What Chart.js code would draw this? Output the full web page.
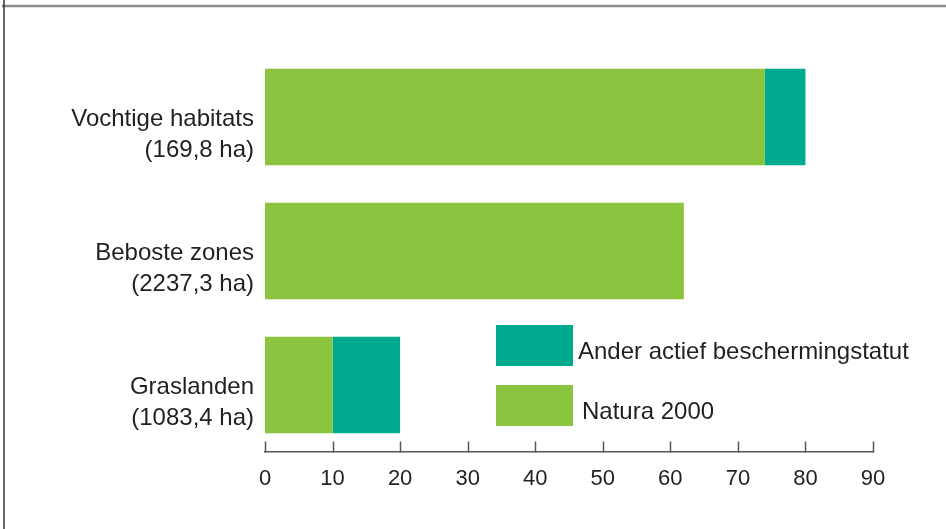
<!DOCTYPE html>
<html>
<head>
<meta charset="utf-8">
<script src="https://cdn.jsdelivr.net/npm/chart.js@4/dist/chart.umd.min.js"></script>
<style>
  html, body { margin: 0; padding: 0; background: #fff; }
  #wrap { position: relative; width: 946px; height: 529px; }
</style>
</head>
<body>
<div id="wrap"><canvas id="chart" width="946" height="529"></canvas></div>
<script>
// ===== Data =====
const categories = [
    ['Vochtige habitats', '(169,8 ha)'],
    ['Beboste zones', '(2237,3 ha)'],
    ['Graslanden', '(1083,4 ha)']
];
const natura2000 = [74, 62, 10];
const anderStatuut = [6, 0, 10];
const seriesNames = ['Ander actief beschermingstatut', 'Natura 2000'];
const xTicks = [0, 10, 20, 30, 40, 50, 60, 70, 80, 90];

const GREEN = '#8bc43f';
const TEAL = '#00aa8e';
const TEXT = '#231f20';
const FONT = "'Liberation Sans', Arial, sans-serif";

// frame lines + upward tick marks + legend
const decor = {
    id: 'decor',
    beforeDraw(chart) {
        const ctx = chart.ctx;
        ctx.save();
        ctx.strokeStyle = '#8a8a8a';
        ctx.lineWidth = 2.5;
        ctx.beginPath();
        ctx.moveTo(2, 6);
        ctx.lineTo(946, 6);
        ctx.stroke();
        ctx.strokeStyle = '#333';
        ctx.lineWidth = 1.5;
        ctx.beginPath();
        ctx.moveTo(4, 0);
        ctx.lineTo(4, 529);
        ctx.stroke();
        ctx.restore();
    },
    afterDraw(chart) {
        const ctx = chart.ctx;
        const x = chart.scales.x;
        const yBase = chart.chartArea.bottom + 0.5;
        ctx.save();
        ctx.strokeStyle = '#555';
        ctx.lineWidth = 1.5;
        xTicks.forEach(v => {
            const px = Math.round(x.getPixelForValue(v)) + 0.5;
            ctx.beginPath();
            ctx.moveTo(px, yBase);
            ctx.lineTo(px, yBase - 11);
            ctx.stroke();
        });

        // legend
        const legend = [
            { color: TEAL, label: seriesNames[0], y: 325, tx: 578 },
            { color: GREEN, label: seriesNames[1], y: 385, tx: 582 }
        ];
        ctx.font = '24px ' + FONT;
        ctx.textBaseline = 'middle';
        ctx.textAlign = 'left';
        legend.forEach(l => {
            ctx.fillStyle = l.color;
            ctx.fillRect(496, l.y, 77, 41);
            ctx.fillStyle = TEXT;
            ctx.fillText(l.label, l.tx, l.y + 27);
        });
        ctx.restore();
    }
};

new Chart(document.getElementById('chart').getContext('2d'), {
    type: 'bar',
    data: {
        labels: categories,
        datasets: [
            {
                label: seriesNames[1],
                data: natura2000,
                backgroundColor: GREEN,
                barPercentage: 0.72,
                categoryPercentage: 1,
            },
            {
                label: seriesNames[0],
                data: anderStatuut,
                backgroundColor: TEAL,
                barPercentage: 0.72,
                categoryPercentage: 1,
            }
        ]
    },
    options: {
        indexAxis: 'y',
        responsive: false,
        animation: false,
        layout: { padding: { top: 50, right: 73, left: 0, bottom: 0 } },
        plugins: {
            legend: { display: false },
            tooltip: { enabled: false }
        },
        scales: {
            x: {
                stacked: true,
                min: 0,
                max: 90,
                ticks: {
                    stepSize: 10,
                    color: TEXT,
                    padding: 14,
                    font: { size: 22, family: FONT }
                },
                grid: { display: false, drawTicks: false },
                border: { display: true, color: '#555', width: 1.5 },
                afterFit: s => { s.height = 77; }
            },
            y: {
                stacked: true,
                ticks: {
                    color: TEXT,
                    padding: 11,
                    labelOffset: 18,
                    font: { size: 24, family: FONT, lineHeight: 1.27 }
                },
                grid: { display: false, drawTicks: false },
                border: { display: false },
                afterFit: s => { s.width = 265; }
            }
        }
    },
    plugins: [decor]
});
</script>
</body>
</html>
